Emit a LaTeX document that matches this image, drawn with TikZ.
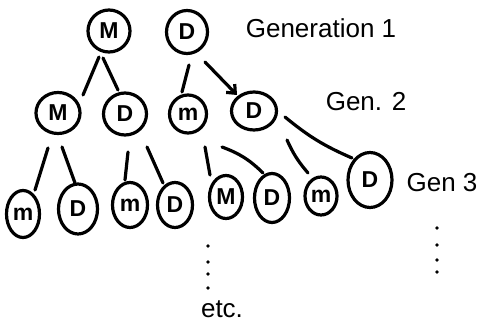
\documentclass[tikz,border=0pt]{standalone}
\usepackage{fontspec}
\setmainfont{Liberation Sans}
\usetikzlibrary{shapes.geometric,calc,arrows.meta}

\tikzset{
  person/.style={draw, ellipse, line width=3.2pt, inner sep=0pt,
    font=\fontsize{23}{25}\selectfont\bfseries},
  link/.style={line width=3.2pt, line cap=round},
  label/.style={font=\fontsize{26}{30}\selectfont, inner sep=0pt},
  dotmark/.style={fill=black}
}

\begin{document}
\begin{tikzpicture}[x=1pt, y=-1pt]
\useasboundingbox (0,0) rectangle (479,326);

% generation 1
\node[person, minimum width=42pt, minimum height=42pt] (g1m) at (109,31) {M};
\node[person, minimum width=41pt, minimum height=43pt] (g1d) at (187,32) {D};

% generation 2
\node[person, minimum width=44pt, minimum height=41pt] (g2a) at (58,113) {M};
\node[person, minimum width=43pt, minimum height=42pt] (g2b) at (125,114) {D};
\node[person, minimum width=37pt, minimum height=38pt] (g2c) at (188,114) {m};
\node[person, minimum width=45pt, minimum height=38pt] (g2d) at (254,111) {D};

% generation 3
\node[person, minimum width=33pt, minimum height=47pt] (g3a) at (23,214) {m};
\node[person, minimum width=39pt, minimum height=50pt] (g3b) at (78,209) {D};
\node[person, minimum width=35pt, minimum height=45pt] (g3c) at (130,205) {m};
\node[person, minimum width=35pt, minimum height=45pt] (g3d) at (175,205) {D};
\node[person, minimum width=33pt, minimum height=43pt] (g3e) at (226,197) {M};
\node[person, minimum width=35pt, minimum height=49pt] (g3f) at (272,198) {D};
\node[person, minimum width=32pt, minimum height=38pt] (g3g) at (321,196) {m};
\node[person, minimum width=44pt, minimum height=55pt] (g3h) at (370,180) {D};

% generation labels
\node[label] (lab1) at (321,28) {Generation 1};
\node[label] (lab2) at (366,102) {Gen. 2};
\node[label] (lab3) at (442,183) {Gen 3};
\node[label] (etc) at (222,309) {etc.};

% links from generation 1
\draw[link] ($(g1m)+(-10,26)$) -- ($(g2a)+(25,-18)$);
\draw[link] ($(g1m)+(-6,27)$) -- ($(g2b)+(-7,-24)$);
\draw[link] ($(g1d)+(2,33)$) -- ($(g2c)+(-6,-22)$);
\draw[link, -{Straight Barb[length=7pt, width=12pt, line width=3.2pt]}]
  ($(g1d)+(18,30)$) -- ($(g2d)+(-17,-16)$);

% links from generation 2
\draw[link] ($(g2a)+(-10,35)$) -- ($(g3a)+(12,-24)$);
\draw[link] ($(g2a)+(4,34)$) -- ($(g3b)+(-3,-26)$);
\draw[link] ($(g2b)+(3,38)$) -- ($(g3c)+(-5,-25)$);
\draw[link] ($(g2b)+(22,33)$) -- ($(g3d)+(-12,-22)$);
\draw[link] ($(g2c)+(17,33)$) -- ($(g3e)+(-16,-22)$);
\draw[link] ($(g2c)+(34,33)$) to[bend left=12] ($(g3f)+(-9,-25)$);
\draw[link] ($(g2d)+(33,29)$) to[bend right=8] ($(g3g)+(-13,-23)$);
\draw[link] ($(g2d)+(31,6)$) to[bend right=8] ($(g3h)+(-18,-22)$);

% continuation dots
\foreach \yy in {246,262,274,288} \fill[dotmark] (208,\yy) circle (1.9pt);
\foreach \yy in {228,245,260,272} \fill[dotmark] (437,\yy) circle (1.9pt);
\end{tikzpicture}
\end{document}
